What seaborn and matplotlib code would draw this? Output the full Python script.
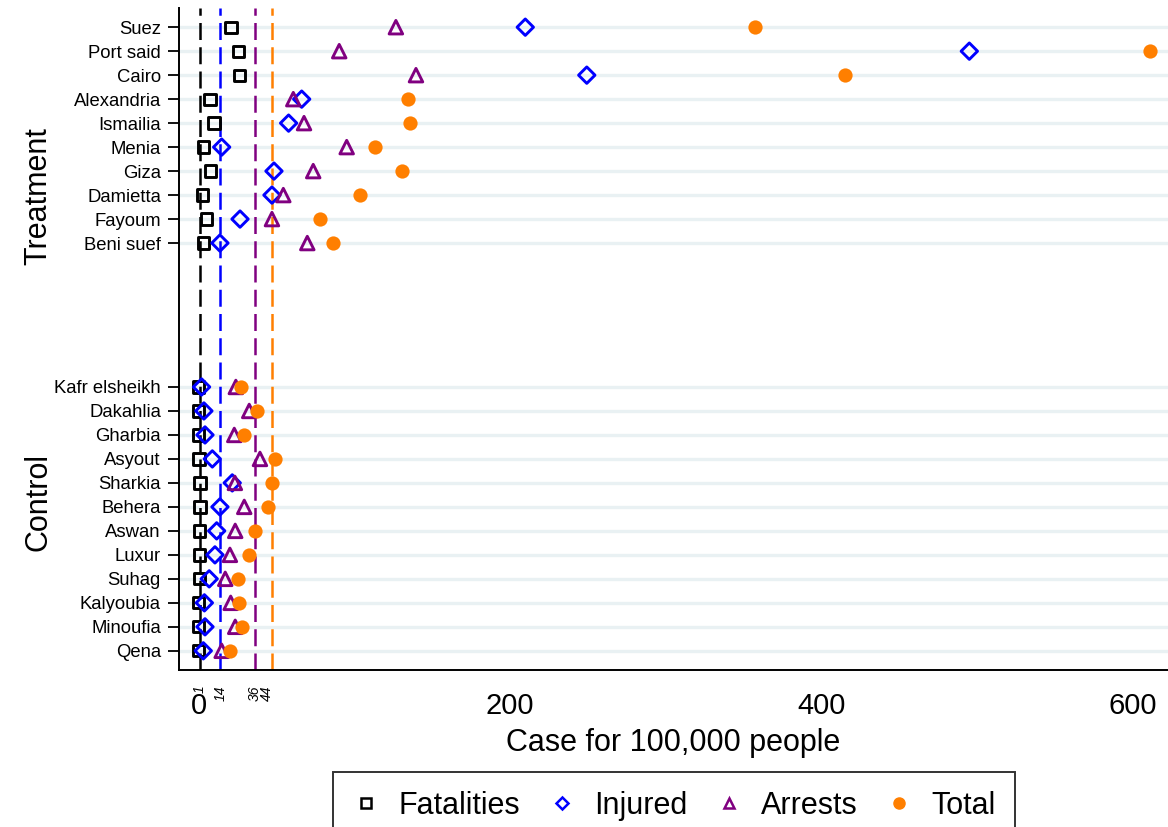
import numpy as np
import pandas as pd
import matplotlib
matplotlib.use("Agg")
import matplotlib.pyplot as plt
from matplotlib.lines import Line2D
import seaborn as sns

# ---------------- data ----------------
treat_regions = ["Suez", "Port said", "Cairo", "Alexandria", "Ismailia", "Menia",
                 "Giza", "Damietta", "Fayoum", "Beni suef"]
treat_fatalities = [20.9, 25.6, 26.2, 7.4, 10.0, 3.3, 7.8, 2.5, 5.3, 3.1]
treat_injured = [209.9, 495.1, 249.4, 66.3, 57.9, 14.9, 48.5, 47.2, 26.7, 13.8]
treat_arrests = [126.8, 90.4, 139.7, 60.9, 67.8, 95.2, 73.7, 54.5, 47.2, 69.9]
treat_total = [357.5, 611.1, 415.5, 134.8, 135.8, 113.6, 130.5, 103.7, 78.0, 86.6]

ctrl_regions = ["Kafr elsheikh", "Dakahlia", "Gharbia", "Asyout", "Sharkia", "Behera",
                "Aswan", "Luxur", "Suhag", "Kalyoubia", "Minoufia", "Qena"]
ctrl_fatalities = [0.0, 0.2, 0.2, 0.3, 1.0, 1.0, 0.8, 0.8, 0.5, 0.1, 0.1, 0.1]
ctrl_injured = [2.0, 3.5, 4.2, 8.9, 21.7, 13.8, 11.7, 10.6, 6.9, 3.8, 4.2, 3.1]
ctrl_arrests = [24.0, 32.6, 23.0, 39.5, 23.4, 29.4, 23.6, 20.2, 17.2, 20.7, 23.6, 14.9]
ctrl_total = [27.0, 37.6, 29.4, 49.3, 47.0, 44.8, 36.5, 32.6, 25.2, 26.0, 28.1, 20.2]

ref_ticks = [1, 14, 36, 44]
ref_lines = [1, 14, 36.5, 47.5]
major_ticks = [0, 200, 400, 600]
series_names = ["Fatalities", "Injured", "Arrests", "Total"]
group_names = ["Treatment", "Control"]

# ---------------- build table ----------------
gap = 5
treat_pos = list(range(len(treat_regions)))
ctrl_pos = [len(treat_regions) + gap + i for i in range(len(ctrl_regions))]

rows = []
for names, pos, vals in [
    (treat_regions, treat_pos, [treat_fatalities, treat_injured, treat_arrests, treat_total]),
    (ctrl_regions, ctrl_pos, [ctrl_fatalities, ctrl_injured, ctrl_arrests, ctrl_total]),
]:
    for s, v in zip(series_names, vals):
        for n, p, val in zip(names, pos, v):
            rows.append({"region": n, "pos": p, "series": s, "value": val})
df = pd.DataFrame(rows)

# ---------------- style ----------------
sns.set_style("white")
plt.rcParams['font.family'] = ['Liberation Sans', 'DejaVu Sans']
plt.rcParams['text.color'] = 'black'
plt.rcParams['axes.labelcolor'] = 'black'
plt.rcParams['xtick.color'] = 'black'
plt.rcParams['ytick.color'] = 'black'

colors = {"Fatalities": "#000000", "Injured": "#0000ff", "Arrests": "#800080", "Total": "#ff7f00"}
markers = {"Fatalities": "s", "Injured": "D", "Arrests": "^", "Total": "o"}
sizes = {"Fatalities": 66, "Injured": 70, "Arrests": 95, "Total": 105}
filled = {"Fatalities": False, "Injured": False, "Arrests": False, "Total": True}

fig = plt.figure(figsize=(11.68, 8.27), dpi=100)
ax = fig.add_axes([179 / 1168, 157 / 827, 989 / 1168, 662 / 827])

all_pos = treat_pos + ctrl_pos
all_names = treat_regions + ctrl_regions

# grid lines only at region rows
ax.set_yticks(all_pos)
ax.set_yticklabels(all_names, fontsize=13.3)
ax.grid(axis="y", color="#e9f1f3", linewidth=2.4, zorder=0)
ax.grid(axis="x", visible=False)
ax.set_axisbelow(True)

# reference dashed lines
for v, c in zip(ref_lines, ["#000000", "#0000ff", "#800080", "#ff7f00"]):
    ax.axvline(v, color=c, linewidth=1.8, linestyle=(0, (6.8, 2.9)), zorder=1)

for s in series_names:
    sub = df[df["series"] == s]
    if filled[s]:
        sns.scatterplot(data=sub, x="value", y="pos", marker=markers[s], s=sizes[s],
                        color=colors[s], edgecolor=colors[s], linewidth=0, ax=ax,
                        zorder=3, legend=False)
    else:
        sns.scatterplot(data=sub, x="value", y="pos", marker=markers[s], s=sizes[s],
                        facecolor="none", edgecolor=colors[s], linewidth=2.1, ax=ax,
                        zorder=3, legend=False)

ax.set_xlim(-12.5, 622.7)
ax.set_ylim(len(treat_regions) + gap + len(ctrl_regions) - 1 + 0.8, -0.8)

for sp in ["top", "right"]:
    ax.spines[sp].set_visible(False)
for sp in ["left", "bottom"]:
    ax.spines[sp].set_color("black")
    ax.spines[sp].set_linewidth(1.4)

ax.set_xticks(major_ticks)
ax.set_xticklabels([str(t) for t in major_ticks], fontsize=21)
ax.set_xticks(ref_ticks, minor=True)
ax.set_xticklabels([str(t) for t in ref_ticks], minor=True, fontsize=10,
                   rotation=90, fontstyle="italic")
ax.tick_params(axis="x", which="major", length=7, width=1.3, pad=9, color="black")
ax.tick_params(axis="x", which="minor", length=8, width=1.1, pad=3, color="black")
ax.tick_params(axis="y", which="major", length=8, width=1.3, pad=5, color="black", left=True)

ax.set_ylabel("")
ax.set_xlabel("Case for 100,000 people", fontsize=22)
ax.xaxis.set_label_coords(0.5, -0.088)

fig.text(38 / 1168, 1 - 196 / 827, group_names[0], rotation=90, fontsize=22,
         ha="center", va="center")
fig.text(38 / 1168, 1 - 502 / 827, group_names[1], rotation=90, fontsize=22,
         ha="center", va="center")

handles = []
for s in series_names:
    if filled[s]:
        h = Line2D([], [], linestyle="none", marker=markers[s], markersize=8,
                   markerfacecolor=colors[s], markeredgecolor=colors[s])
    else:
        h = Line2D([], [], linestyle="none", marker=markers[s],
                   markersize=7 if s != "Injured" else 6.5,
                   markerfacecolor="none", markeredgecolor=colors[s], markeredgewidth=1.8)
    handles.append(h)
leg = fig.legend(handles, series_names, loc="upper center",
                 bbox_to_anchor=(674 / 1168, 1 - 772 / 827), ncol=4, frameon=True,
                 fancybox=False, edgecolor="black", fontsize=22, handlelength=0.9,
                 handletextpad=0.6, columnspacing=0.92, borderpad=0.62,
                 borderaxespad=0)
leg.get_frame().set_linewidth(1.4)

fig.savefig("out.png", dpi=100)
